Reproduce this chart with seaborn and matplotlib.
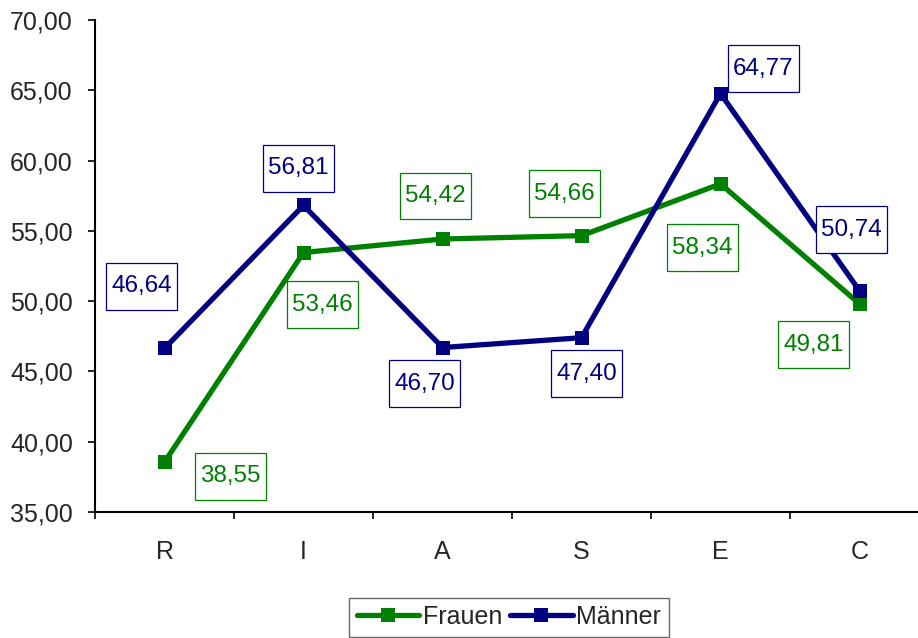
import matplotlib
matplotlib.use("Agg")
import matplotlib.pyplot as plt
from matplotlib.ticker import FuncFormatter, FixedLocator
from matplotlib.path import Path
from matplotlib.lines import Line2D
import seaborn as sns
import pandas as pd

categories = ["R", "I", "A", "S", "E", "C"]
frauen = [38.55, 53.46, 54.42, 54.66, 58.34, 49.81]
maenner = [46.64, 56.81, 46.70, 47.40, 64.77, 50.74]
series_names = ["Frauen", "Männer"]
colors = ["#008000", "#000080"]

# label offsets in pixels (dx, dy) relative to each point
off_f = [(66, -14), (19, -52), (-7, 43), (-17, 42), (-18, -64), (-46, -41)]
off_m = [(-23, 62), (-5, 37), (-18, -36), (5, -36), (43, 25), (-8, 61)]

sns.set_style("white")
plt.rcParams["font.family"] = ["Liberation Sans", "DejaVu Sans"]


def tallbox(x0, y0, width, height, mutation_size):
    cx = x0 + width / 2
    cy = y0 + height / 2
    w = width + 2 * 0.2 * mutation_size
    h = 1.93 * mutation_size
    verts = [(cx - w / 2, cy - h / 2), (cx + w / 2, cy - h / 2),
             (cx + w / 2, cy + h / 2), (cx - w / 2, cy + h / 2),
             (cx - w / 2, cy - h / 2)]
    return Path(verts, closed=True)


df = pd.DataFrame({
    "cat": categories * 2,
    "val": frauen + maenner,
    "series": [series_names[0]] * 6 + [series_names[1]] * 6,
})

fig = plt.figure(figsize=(9.18, 6.38), dpi=100)
ax = fig.add_axes([95 / 918, 1 - 512 / 638, 834 / 918, 492 / 638])

sns.lineplot(data=df, x="cat", y="val", hue="series", style="series",
             markers={"Frauen": "s", "Männer": "s"}, dashes=False,
             palette=dict(zip(series_names, colors)), linewidth=3.8,
             markersize=10.5, markeredgewidth=0, ax=ax, sort=False, legend=False)

ax.set_ylim(35, 70)
ax.set_xlim(-0.5, 5.5)
ax.set_yticks([35, 40, 45, 50, 55, 60, 65, 70])
ax.yaxis.set_major_formatter(FuncFormatter(lambda v, p: f"{v:.2f}".replace(".", ",")))
ax.set_xlabel("")
ax.set_ylabel("")

for s in ["top", "right"]:
    ax.spines[s].set_visible(False)
for s in ["left", "bottom"]:
    ax.spines[s].set_linewidth(1.5)
    ax.spines[s].set_color("black")

ax.tick_params(axis="y", which="major", direction="out", length=5, width=1.2,
               labelsize=18, pad=11, left=True, color="black")
ax.tick_params(axis="x", which="major", length=0, labelsize=18, pad=20)
ax.xaxis.set_minor_locator(FixedLocator([-0.5 + i for i in range(7)]))
ax.tick_params(axis="x", which="minor", direction="out", length=5, width=1.2,
               bottom=True, color="black")

for vals, offs, col in [(frauen, off_f, colors[0]), (maenner, off_m, colors[1])]:
    for i, (v, (dx, dy)) in enumerate(zip(vals, offs)):
        ax.annotate(f"{v:.2f}".replace(".", ","), xy=(i, v), xytext=(dx, dy),
                    textcoords="offset pixels", ha="center", va="center",
                    fontsize=17.5, color=col,
                    bbox=dict(boxstyle=tallbox, fc="white", ec=col, lw=0.9),
                    zorder=5)

handles = [Line2D([0], [0], color=c, lw=3.8, marker="s", markersize=10.5,
                  markeredgewidth=0) for c in colors]
leg = fig.legend(handles, series_names, loc="center",
                 bbox_to_anchor=(509 / 918, 1 - 617 / 638), ncol=2,
                 fontsize=18, frameon=True, fancybox=False, handlelength=2.5,
                 handletextpad=0.15, columnspacing=0.3, borderpad=0.3,
                 borderaxespad=0)
leg.get_frame().set_edgecolor("#444444")
leg.get_frame().set_linewidth(1.0)

fig.savefig("out.png", dpi=100)
